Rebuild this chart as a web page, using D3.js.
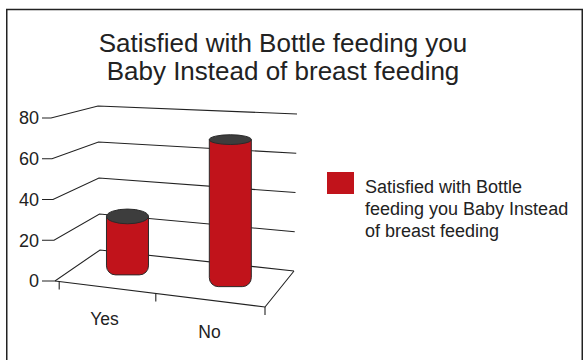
<!DOCTYPE html>
<html>
<head>
<meta charset="utf-8">
<script src="https://cdn.jsdelivr.net/npm/d3@7"></script>
<style>
  body { margin: 0; background: #fff; }
  svg { display: block; }
  text { font-family: "Liberation Sans", Arial, sans-serif; fill: #222; }
</style>
</head>
<body>
<svg id="chart" width="584" height="360"></svg>
<script>
// ---- data ----
const categories = ["Yes", "No"];
const values = [28, 70];
const yTicks = [0, 20, 40, 60, 80];
const titleLines = ["Satisfied with Bottle feeding you", "Baby Instead of breast feeding"];
const legendLines = ["Satisfied with Bottle", "feeding you Baby Instead", "of breast feeding"];

// ---- layout ----
const W = 584, H = 360;
const barColor = "#c1131b";
const capColor = "#3d3d3d";
const lineColor = "#222";

// screen corners of the 3D plot box (f = front, b = back, l/r = left/right, b/t = bottom/top)
const box = {
  flb: [55, 281], frb: [265, 307], blb: [100, 250], brb: [294, 271],
  flt: [51, 118], frt: [268, 129], blt: [98, 106], brt: [297, 114]
};
const lerp = (a, b, t) => [a[0] + (b[0] - a[0]) * t, a[1] + (b[1] - a[1]) * t];

const y = d3.scaleLinear().domain([0, 80]).range([0, 1]);
const x = d3.scaleBand().domain(categories).range([0, 1]);

// u: across categories (0..1), v: value, w: depth (0 front .. 1 back)
function project(u, v, w) {
  const t = y(v);
  const fl = lerp(box.flb, box.flt, t), fr = lerp(box.frb, box.frt, t);
  const bl = lerp(box.blb, box.blt, t), br = lerp(box.brb, box.brt, t);
  return lerp(lerp(fl, fr, u), lerp(bl, br, u), w);
}

const svg = d3.select("#chart");

// outer frame
svg.append("rect")
  .attr("x", 6.75).attr("y", 9.5)
  .attr("width", 575.5).attr("height", 400)
  .attr("fill", "none").attr("stroke", lineColor).attr("stroke-width", 1.5);

// title
svg.append("g").selectAll("text").data(titleLines).join("text")
  .attr("x", 283).attr("y", (d, i) => 52 + i * 28)
  .attr("text-anchor", "middle")
  .style("font-size", "26px")
  .text(d => d);

// gridlines on left wall and back wall
const grid = svg.append("g").attr("fill", "none").attr("stroke", lineColor).attr("stroke-width", 1.1);
yTicks.forEach(v => {
  const fl = project(0, v, 0), bl = project(0, v, 1), br = project(1, v, 1);
  grid.append("path").attr("d", d3.line()([[42, fl[1]], fl, bl, br]));
});
// floor outline
grid.append("path").attr("d", d3.line()([
  project(0, 0, 0), project(1, 0, 0), project(1, 0, 1)
]));

// value tick labels
svg.append("g").selectAll("text").data(yTicks).join("text")
  .attr("x", 39).attr("y", d => project(0, d, 0)[1])
  .attr("dy", "0.36em")
  .attr("text-anchor", "end")
  .style("font-size", "18px")
  .text(d => d);

// category tick marks along the front floor edge
const catTicks = [0.02, 0.48, 1];
grid.selectAll(".ctick").data(catTicks).join("path")
  .attr("class", "ctick")
  .attr("d", u => { const p = project(u, 0, 0); return d3.line()([p, [p[0], p[1] + 8]]); });

// category labels
svg.append("g").selectAll("text").data(categories).join("text")
  .attr("x", d => project(x(d) + x.bandwidth() / 2, 0, 0)[0] - 3)
  .attr("y", d => project(x(d) + x.bandwidth() / 2, 0, 0)[1] + 37.5)
  .attr("text-anchor", "middle")
  .style("font-size", "17.5px")
  .text(d => d);

// cylinders
const rx = 21, corner = 9, depthHalf = 0.29;
const bars = svg.append("g");
categories.forEach((c, i) => {
  const u = x(c) + x.bandwidth() / 2;
  const v = values[i];
  const base = project(u, 0, 0.5);
  const top = project(u, v, 0.5);
  const ry = (project(u, v, 0.5 - depthHalf)[1] - project(u, v, 0.5 + depthHalf)[1]) / 2;
  const cx = top[0];
  const bottomY = base[1] + 3.5;
  const p = d3.path();
  p.moveTo(cx - rx, top[1]);
  p.lineTo(cx - rx, bottomY - corner);
  p.arcTo(cx - rx, bottomY, cx - rx + corner, bottomY, corner);
  p.lineTo(cx + rx - corner, bottomY);
  p.arcTo(cx + rx, bottomY, cx + rx, bottomY - corner, corner);
  p.lineTo(cx + rx, top[1]);
  p.closePath();
  bars.append("path").attr("d", p.toString())
    .attr("fill", barColor).attr("stroke", "#2a2a2a").attr("stroke-width", 1);
  bars.append("ellipse")
    .attr("cx", cx).attr("cy", top[1]).attr("rx", rx).attr("ry", ry)
    .attr("fill", capColor).attr("stroke", "#2a2a2a").attr("stroke-width", 1);
});

// legend
const legend = svg.append("g");
legend.append("rect")
  .attr("x", 327).attr("y", 172).attr("width", 27).attr("height", 22)
  .attr("fill", barColor);
legend.selectAll("text").data(legendLines).join("text")
  .attr("x", 365).attr("y", (d, i) => 193 + i * 22)
  .style("font-size", "18px")
  .text(d => d);
</script>
</body>
</html>
